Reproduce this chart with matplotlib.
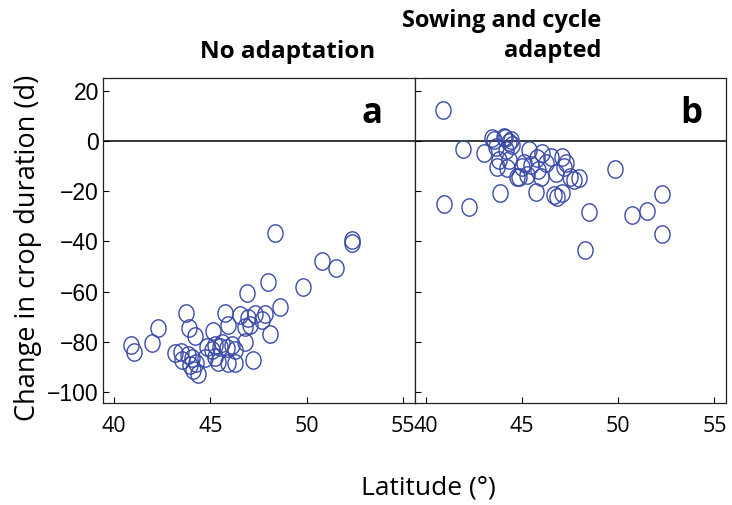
import matplotlib
matplotlib.use('Agg')
import matplotlib.pyplot as plt
import numpy as np
from matplotlib.path import Path

# panel a: no adaptation
lat_a = [40.88, 41.04, 41.97, 42.28, 43.17, 43.48, 43.53, 43.74, 43.84, 43.89,
         43.94, 44.05, 44.10, 44.20, 44.26, 44.36, 44.72, 44.83, 45.09, 45.14,
         45.24, 45.24, 45.40, 45.50, 45.60, 45.76, 45.86, 45.92, 45.92, 46.12,
         46.28, 46.28, 46.54, 46.80, 46.80, 46.90, 46.95, 47.06, 47.21, 47.32,
         47.68, 47.84, 47.99, 48.10, 48.36, 48.61, 49.81, 50.79, 51.52, 52.35,
         52.35]
dur_a = [-81.1, -83.9, -80.3, -74.4, -84.3, -83.9, -87.1, -68.4, -85.1, -74.4,
         -89.1, -86.3, -91.1, -77.9, -88.3, -93.0, -86.3, -81.9, -83.1, -75.9,
         -81.1, -85.9, -87.9, -81.9, -80.3, -68.4, -82.3, -73.2, -88.3, -81.1,
         -83.1, -88.3, -69.2, -74.0, -79.9, -60.4, -70.4, -73.2, -87.1, -68.8,
         -71.2, -68.8, -56.1, -77.1, -36.6, -66.0, -58.4, -47.7, -50.5, -39.4,
         -40.6]

# panel b: sowing and cycle adapted
lat_b = [40.88, 40.93, 41.92, 42.23, 43.01, 43.43, 43.53, 43.63, 43.68, 43.79,
         43.84, 44.05, 44.10, 44.15, 44.20, 44.31, 44.31, 44.41, 44.46, 44.72,
         44.83, 44.98, 45.09, 45.24, 45.35, 45.45, 45.71, 45.76, 45.86, 45.97,
         46.02, 46.23, 46.49, 46.64, 46.75, 46.80, 47.06, 47.06, 47.16, 47.27,
         47.52, 47.73, 47.94, 48.30, 48.46, 49.81, 50.74, 51.52, 52.25, 52.30]
dur_b = [12.3, -25.0, -3.2, -26.2, -4.8, 1.2, 0.4, -2.4, -10.3, -7.6,
         -20.7, 1.6, 1.2, -3.6, -10.7, -7.6, -0.4, 0.4, -1.6, -14.3,
         -14.3, -10.3, -8.7, -13.5, -3.6, -9.5, -20.3, -6.8, -11.5, -14.3,
         -4.8, -8.7, -6.4, -21.5, -12.7, -22.3, -6.4, -20.7, -10.3, -8.7,
         -14.3, -15.5, -14.7, -43.3, -28.2, -11.1, -29.4, -27.8, -37.0, -21.1]

xticks = [40, 45, 50, 55]
yticks = [-100, -80, -60, -40, -20, 0, 20]

COLOR = '#3b4ba8'

# slightly tall open ellipse like in the original
t = np.linspace(0, 2 * np.pi, 60)
ellipse = Path(np.column_stack([0.87 * np.cos(t), np.sin(t)]), closed=True)

fig = plt.figure(figsize=(7.32, 5.05), dpi=100)
bottom = 1 - 403.3 / 505
height = (403.3 - 78) / 505
ax_a = fig.add_axes([103 / 732, bottom, 311.5 / 732, height])
ax_b = fig.add_axes([414.5 / 732, bottom, 311.5 / 732, height])

for ax, x, y, letter, lx in [(ax_a, lat_a, dur_a, 'a', 0.896),
                             (ax_b, lat_b, dur_b, 'b', 0.923)]:
    ax.axhline(0, color='black', lw=1.1, zorder=1)
    ax.plot(x, y, linestyle='none', marker=ellipse, markersize=12.5,
            mfc='none', mec=COLOR, mew=1.0, zorder=2)
    ax.set_xlim(39.42, 55.6)
    ax.set_ylim(-104.5, 25)
    ax.set_xticks(xticks)
    ax.set_yticks(yticks)
    ax.tick_params(direction='in', length=4, width=0.8, top=False, right=False)
    ax.tick_params(axis='x', pad=9)
    for lab in ax.get_xticklabels():
        lab.set_fontfamily('Open Sans')
        lab.set_fontsize(15.5)
    for sp in ax.spines.values():
        sp.set_linewidth(0.9)
        sp.set_color('#222222')
    ax.text(lx, 0.889, letter, transform=ax.transAxes, ha='right', va='center',
            fontsize=25, fontweight='bold', family='Open Sans')

for lab in ax_a.get_yticklabels():
    lab.set_fontfamily('Liberation Sans')
    lab.set_fontsize(16.5)
ax_a.tick_params(axis='y', pad=3)
ax_b.set_yticklabels([])

fig.text(375 / 732, 1 - 52 / 505, 'No adaptation', ha='right', va='center',
         fontsize=17.5, fontweight='bold', family='Open Sans')
fig.text(601 / 732, 1 - 36 / 505, 'Sowing and cycle\nadapted', ha='right', va='center',
         multialignment='right', linespacing=1.3,
         fontsize=17, fontweight='bold', family='Open Sans')

fig.text(28 / 732, 1 - 248 / 505, 'Change in crop duration (d)', rotation=90,
         ha='center', va='center', fontsize=19.5, family='Open Sans')
fig.text(428 / 732, 1 - 488 / 505, 'Latitude (°)', ha='center', va='center',
         fontsize=19, family='Open Sans')

fig.savefig('out.png', dpi=100)
